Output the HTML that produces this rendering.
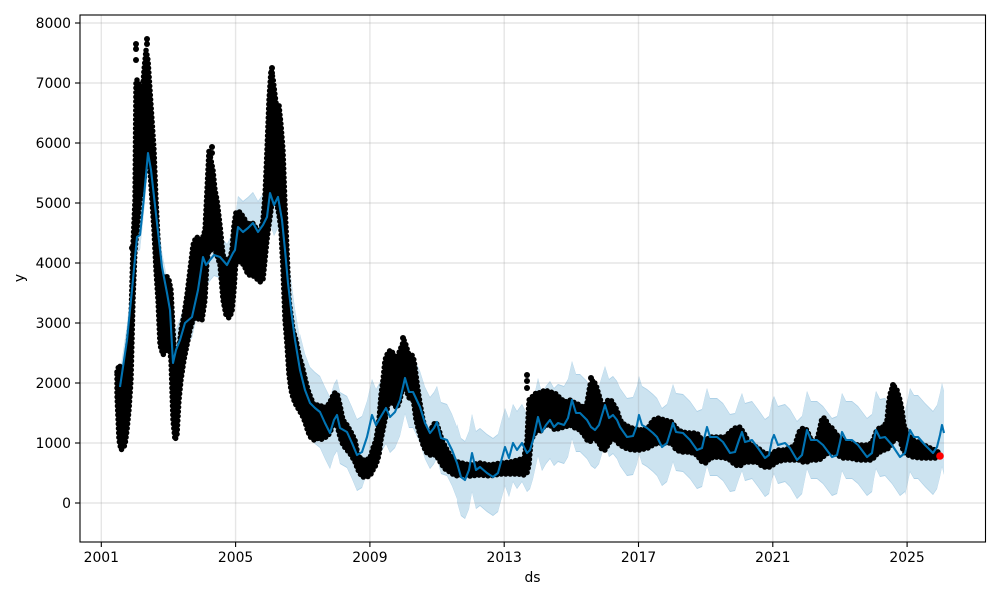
<!DOCTYPE html>
<html><head><meta charset="utf-8"><style>
html,body{margin:0;padding:0;background:#fff;}
svg{display:block;}
text{font-family:"DejaVu Sans","Liberation Sans",sans-serif;font-size:13.9px;fill:#000;}
</style></head><body>
<svg width="1000" height="600" viewBox="0 0 1000 600" xmlns="http://www.w3.org/2000/svg">
<rect x="0" y="0" width="1000" height="600" fill="#fff"/>

<!-- uncertainty band -->
<g transform="scale(0.01,1)" fill="none" stroke-linejoin="round" stroke-linecap="butt">
<g stroke="#aed1e7">
<polyline stroke-width="30" points="12000,387 12700,340 13200,290 13700,237 14000,235 14300,207 14800,153 15100,170 15700,223 16200,267 16700,293 17000,310 17300,363"/>
<polyline stroke-width="42" points="17000,310 17300,363 17600,350 18000,340 18500,323 19200,317 19800,290 20300,257 20600,265 21000,260 21400,255 22000,257 22700,265 23300,253 23500,250 23800,227"/>
<polyline stroke-width="62" points="23500,250 23800,227 24300,232 24800,228 25300,223 25800,232 26300,225 26700,217 27000,193 27400,205 27800,197 28200,220 28500,250"/>
<polyline stroke-width="62" points="28200,220 28500,250 28800,283 29200,317 29500,340 30000,370 30500,390"/>
<polyline stroke-width="72" points="30000,370 30500,390 31000,403 31500,408 32000,412 32500,423 33000,433 33400,420 33700,415 34000,428 34700,432 35200,443 35700,455 36200,452 36700,437 37200,415 37600,425 38000,418 38600,408 39000,417 39500,412 40000,400 40500,378 40900,392 41300,392 42000,407 42500,423 43000,433 43400,428 43700,422 44100,438 44700,440 45200,450 45700,463 46100,477"/>
<polyline stroke-width="78" points="45700,463 46100,477 46500,480 46900,470 47200,453 47600,470 48000,467 48700,473 49300,477 49800,473 50200,458 50500,447 50900,458 51300,443 51700,450 52200,443 52700,453 53000,450 53300,440 53800,417 54200,432 54600,425 55000,420 55400,427 55800,423 56400,425 56800,418 57200,400 57600,413 58000,413 58700,420 59100,427 59500,430 59900,425 60200,415 60500,405 60900,418 61300,415 61700,420 62000,427 62700,437 63300,436 63700,425 63900,415 64200,425 64700,428 65300,433 65700,437 66200,447 66700,443 67100,430 67300,423 67600,432 68300,433 69000,440 69700,450 70200,448 70500,435 70700,427 71000,437 71700,437 72300,442 73000,453 73500,452 73900,440 74200,432 74500,442 75200,440 75800,448 76500,458 76900,455 77200,440 77400,435 77800,445 78500,443 79000,448 79700,460 80200,455 80500,440 80700,430 81100,440 81700,440 82300,445 83200,457 83700,455 84000,442 84200,432 84600,440 85200,440 85800,445 86700,457 87200,453 87400,440 87600,430 88000,438 88500,437 89200,445 90000,457 90500,453 90800,440"/>
<polyline stroke-width="84" points="90500,453 90800,440 91000,430 91400,437 91800,437 92500,445 93300,453 93700,447 94000,435 94200,425 94400,433"/>
</g>
<g stroke="#cce3f0">
<polyline stroke-width="28" points="12000,387 12700,340 13200,290 13700,237 14000,235 14300,207 14800,153 15100,170 15700,223 16200,267 16700,293 17000,310 17300,363"/>
<polyline stroke-width="40" points="17000,310 17300,363 17600,350 18000,340 18500,323 19200,317 19800,290 20300,257 20600,265 21000,260 21400,255 22000,257 22700,265 23300,253 23500,250 23800,227"/>
<polyline stroke-width="60" points="23500,250 23800,227 24300,232 24800,228 25300,223 25800,232 26300,225 26700,217 27000,193 27400,205 27800,197 28200,220 28500,250"/>
<polyline stroke-width="60" points="28200,220 28500,250 28800,283 29200,317 29500,340 30000,370 30500,390"/>
<polyline stroke-width="70" points="30000,370 30500,390 31000,403 31500,408 32000,412 32500,423 33000,433 33400,420 33700,415 34000,428 34700,432 35200,443 35700,455 36200,452 36700,437 37200,415 37600,425 38000,418 38600,408 39000,417 39500,412 40000,400 40500,378 40900,392 41300,392 42000,407 42500,423 43000,433 43400,428 43700,422 44100,438 44700,440 45200,450 45700,463 46100,477"/>
<polyline stroke-width="76" points="45700,463 46100,477 46500,480 46900,470 47200,453 47600,470 48000,467 48700,473 49300,477 49800,473 50200,458 50500,447 50900,458 51300,443 51700,450 52200,443 52700,453 53000,450 53300,440 53800,417 54200,432 54600,425 55000,420 55400,427 55800,423 56400,425 56800,418 57200,400 57600,413 58000,413 58700,420 59100,427 59500,430 59900,425 60200,415 60500,405 60900,418 61300,415 61700,420 62000,427 62700,437 63300,436 63700,425 63900,415 64200,425 64700,428 65300,433 65700,437 66200,447 66700,443 67100,430 67300,423 67600,432 68300,433 69000,440 69700,450 70200,448 70500,435 70700,427 71000,437 71700,437 72300,442 73000,453 73500,452 73900,440 74200,432 74500,442 75200,440 75800,448 76500,458 76900,455 77200,440 77400,435 77800,445 78500,443 79000,448 79700,460 80200,455 80500,440 80700,430 81100,440 81700,440 82300,445 83200,457 83700,455 84000,442 84200,432 84600,440 85200,440 85800,445 86700,457 87200,453 87400,440 87600,430 88000,438 88500,437 89200,445 90000,457 90500,453 90800,440"/>
<polyline stroke-width="82" points="90500,453 90800,440 91000,430 91400,437 91800,437 92500,445 93300,453 93700,447 94000,435 94200,425 94400,433"/>
</g>
</g>

<!-- grid -->
<g stroke="#808080" stroke-opacity="0.2" stroke-width="1.4">
<line x1="80" y1="23" x2="985" y2="23"/>
<line x1="80" y1="83" x2="985" y2="83"/>
<line x1="80" y1="143" x2="985" y2="143"/>
<line x1="80" y1="203" x2="985" y2="203"/>
<line x1="80" y1="263" x2="985" y2="263"/>
<line x1="80" y1="323" x2="985" y2="323"/>
<line x1="80" y1="383" x2="985" y2="383"/>
<line x1="80" y1="443" x2="985" y2="443"/>
<line x1="80" y1="503" x2="985" y2="503"/>
<line x1="101.3" y1="15" x2="101.3" y2="542"/>
<line x1="235.6" y1="15" x2="235.6" y2="542"/>
<line x1="369.9" y1="15" x2="369.9" y2="542"/>
<line x1="504.2" y1="15" x2="504.2" y2="542"/>
<line x1="638.5" y1="15" x2="638.5" y2="542"/>
<line x1="772.8" y1="15" x2="772.8" y2="542"/>
<line x1="907.1" y1="15" x2="907.1" y2="542"/>
</g>

<!-- observed data -->
<defs>
<polygon id="obs" points="117,372 119,365 121,368 123,375 125,370 127,355 129,335 131,320 133,245 135,200 136,80 138,80 140,95 142,100 144,70 146,50 148,60 150,90 152,120 154,150 156,200 158,240 160,270 163,280 166,275 169,280 171,290 173,330 175,360 177,365 179,350 181,330 184,315 187,295 190,270 193,245 196,237 199,238 202,240 205,230 207,190 209,150 211,160 213,170 215,190 217,200 220,225 223,255 226,260 229,262 232,250 234,225 236,212 240,212 244,218 248,225 252,222 256,228 260,232 263,220 265,195 267,150 269,100 271,70 273,78 275,95 277,110 279,105 281,125 283,150 285,205 287,250 289,300 291,315 293,330 296,340 299,355 302,365 305,378 308,390 311,398 314,405 317,405 320,405 324,408 328,405 331,400 334,393 337,393 340,405 343,420 347,425 351,432 355,440 358,455 362,460 366,460 370,458 373,448 376,440 379,420 381,395 383,380 385,360 388,352 391,350 394,355 397,358 400,350 402,345 404,340 406,345 408,352 410,358 412,355 414,360 416,375 418,390 420,403 423,420 426,430 430,432 433,425 436,422 439,430 442,440 446,448 450,455 454,460 458,462 462,463 470,465 480,463 490,465 500,463 510,462 518,460 524,458 527,440 529,400 531,398 534,395 537,392 540,393 545,390 550,392 555,393 560,398 565,402 570,400 575,403 580,405 584,408 587,403 590,385 593,380 596,385 599,395 602,405 605,405 608,400 611,400 614,405 617,410 620,420 625,425 632,428 640,430 648,428 653,420 658,418 665,420 672,422 676,428 682,432 690,433 697,433 702,440 706,440 710,437 718,437 725,437 730,432 735,428 740,427 745,435 750,445 757,447 763,452 770,455 777,450 784,450 790,448 795,445 799,432 803,428 807,430 811,440 816,443 819,432 822,418 825,418 828,425 832,428 837,435 843,440 850,443 858,445 866,445 872,443 876,432 880,427 884,427 887,420 889,400 891,390 894,386 897,390 900,400 902,410 904,425 908,435 913,440 920,443 928,447 935,450 938,452 938,458 935,458 928,458 920,458 913,457 908,455 904,452 902,447 900,440 897,438 894,440 891,445 889,447 887,450 884,450 880,452 876,455 872,460 866,460 858,460 850,458 843,458 837,455 832,452 828,453 825,455 822,458 819,460 816,460 811,460 807,462 803,462 799,460 795,460 790,460 784,460 777,462 770,467 763,467 757,462 750,462 745,462 740,466 735,465 730,460 725,458 718,457 710,458 706,463 702,462 697,455 690,452 682,452 676,450 672,443 665,443 658,443 653,445 648,448 640,450 632,450 625,448 620,445 617,442 614,438 611,440 608,445 605,450 602,450 599,443 596,440 593,438 590,442 587,440 584,435 580,430 575,428 570,425 565,427 560,428 555,430 550,425 545,425 540,432 537,430 534,435 531,440 529,465 527,473 524,475 518,474 510,474 500,474 490,476 480,475 470,476 462,475 458,476 454,475 450,472 446,470 442,465 439,460 436,455 433,455 430,455 426,452 423,445 420,435 418,428 416,420 414,405 412,395 410,400 408,395 406,390 404,380 402,390 400,400 397,408 394,405 391,400 388,405 385,420 383,430 381,440 379,455 376,465 373,470 370,476 366,477 362,477 358,470 355,462 351,455 347,450 343,445 340,437 337,425 334,420 331,430 328,436 324,438 320,440 317,438 314,440 311,438 308,432 305,422 302,415 299,410 296,405 293,398 291,390 289,375 287,345 285,320 283,270 281,230 279,215 277,205 275,200 273,190 271,210 269,225 267,240 265,260 263,280 260,282 256,278 252,275 248,275 244,265 240,262 236,260 234,290 232,312 229,318 226,315 223,300 220,265 217,255 215,250 213,245 211,250 209,250 207,260 205,300 202,320 199,320 196,315 193,320 190,330 187,345 184,360 181,380 179,400 177,435 175,440 173,420 171,360 169,345 166,350 163,355 160,345 158,300 156,270 154,230 152,200 150,170 148,150 146,160 144,180 142,190 140,200 138,220 136,240 135,250 133,300 131,380 129,410 127,430 125,445 123,448 121,450 119,440 117,395"/>
</defs>
<use href="#obs" fill="#000" stroke="#000" stroke-width="1.5" stroke-linejoin="round"/>
<use href="#obs" fill="none" stroke="#000" stroke-width="5.5" stroke-linecap="round" stroke-dasharray="0 4.5"/>
<g fill="#000">
<circle cx="136" cy="44" r="3"/><circle cx="136" cy="49" r="3"/><circle cx="136" cy="60" r="3"/>
<circle cx="147" cy="39" r="3"/><circle cx="147" cy="44" r="3"/>
<circle cx="272" cy="68" r="3"/><circle cx="272" cy="73" r="3"/>
<circle cx="212" cy="147" r="3"/><circle cx="212" cy="153" r="3"/>
<circle cx="527" cy="375" r="3"/><circle cx="527" cy="381" r="3"/><circle cx="527" cy="388" r="3"/>
<circle cx="591" cy="378" r="3"/>
<circle cx="893" cy="385" r="3"/>
<circle cx="403" cy="338" r="3"/><circle cx="405" cy="345" r="3"/>
<circle cx="131" cy="320" r="3"/><circle cx="132" cy="248" r="3"/>
</g>

<!-- forecast line -->
<polyline fill="none" stroke="#0072B2" stroke-width="2.1" stroke-linejoin="round" points="120,387 127,340 132,290 137,237 140,235 143,207 148,153 151,170 157,223 162,267 167,293 170,310 173,363 176,350 180,340 185,323 192,317 198,290 203,257 206,265 210,260 214,255 220,257 227,265 233,253 235,250 238,227 243,232 248,228 253,223 258,232 263,225 267,217 270,193 274,205 278,197 282,220 285,250 288,283 292,317 295,340 300,370 305,390 310,403 315,408 320,412 325,423 330,433 334,420 337,415 340,428 347,432 352,443 357,455 362,452 367,437 372,415 376,425 380,418 386,408 390,417 395,412 400,400 405,378 409,392 413,392 420,407 425,423 430,433 434,428 437,422 441,438 447,440 452,450 457,463 461,477 465,480 469,470 472,453 476,470 480,467 487,473 493,477 498,473 502,458 505,447 509,458 513,443 517,450 522,443 527,453 530,450 533,440 538,417 542,432 546,425 550,420 554,427 558,423 564,425 568,418 572,400 576,413 580,413 587,420 591,427 595,430 599,425 602,415 605,405 609,418 613,415 617,420 620,427 627,437 633,436 637,425 639,415 642,425 647,428 653,433 657,437 662,447 667,443 671,430 673,423 676,432 683,433 690,440 697,450 702,448 705,435 707,427 710,437 717,437 723,442 730,453 735,452 739,440 742,432 745,442 752,440 758,448 765,458 769,455 772,440 774,435 778,445 785,443 790,448 797,460 802,455 805,440 807,430 811,440 817,440 823,445 832,457 837,455 840,442 842,432 846,440 852,440 858,445 867,457 872,453 874,440 876,430 880,438 885,437 892,445 900,457 905,453 908,440 910,430 914,437 918,437 925,445 933,453 937,447 940,435 942,425 944,433"/>

<!-- last point -->
<circle cx="940" cy="456" r="3.8" fill="#ff0000"/>

<!-- frame -->
<rect x="80" y="15" width="905.5" height="527" fill="none" stroke="#000" stroke-width="1.1"/>

<!-- ticks -->
<g stroke="#000" stroke-width="1.1">
<line x1="75" y1="23" x2="80" y2="23"/>
<line x1="75" y1="83" x2="80" y2="83"/>
<line x1="75" y1="143" x2="80" y2="143"/>
<line x1="75" y1="203" x2="80" y2="203"/>
<line x1="75" y1="263" x2="80" y2="263"/>
<line x1="75" y1="323" x2="80" y2="323"/>
<line x1="75" y1="383" x2="80" y2="383"/>
<line x1="75" y1="443" x2="80" y2="443"/>
<line x1="75" y1="503" x2="80" y2="503"/>
<line x1="101.3" y1="542" x2="101.3" y2="547"/>
<line x1="235.6" y1="542" x2="235.6" y2="547"/>
<line x1="369.9" y1="542" x2="369.9" y2="547"/>
<line x1="504.2" y1="542" x2="504.2" y2="547"/>
<line x1="638.5" y1="542" x2="638.5" y2="547"/>
<line x1="772.8" y1="542" x2="772.8" y2="547"/>
<line x1="907.1" y1="542" x2="907.1" y2="547"/>
</g>

<g text-anchor="end">
<text x="71" y="28">8000</text>
<text x="71" y="88">7000</text>
<text x="71" y="148">6000</text>
<text x="71" y="208">5000</text>
<text x="71" y="268">4000</text>
<text x="71" y="328">3000</text>
<text x="71" y="388">2000</text>
<text x="71" y="448">1000</text>
<text x="71" y="508">0</text>
</g>
<g text-anchor="middle">
<text x="101.3" y="562">2001</text>
<text x="235.6" y="562">2005</text>
<text x="369.9" y="562">2009</text>
<text x="504.2" y="562">2013</text>
<text x="638.5" y="562">2017</text>
<text x="772.8" y="562">2021</text>
<text x="907.1" y="562">2025</text>
<text x="532.5" y="582">ds</text>
<text x="0" y="0" transform="translate(24,278) rotate(-90)">y</text>
</g>
</svg>
</body></html>
